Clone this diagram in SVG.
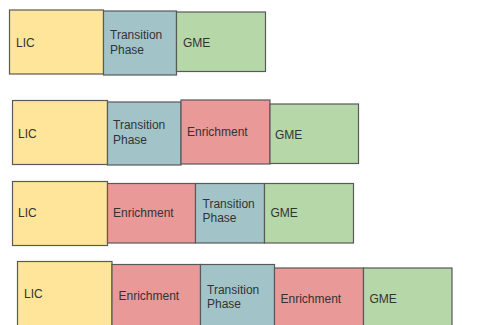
<svg xmlns="http://www.w3.org/2000/svg" width="495" height="325" viewBox="0 0 495 325">
<style>
rect{stroke:#595959;stroke-width:1.2}
.y{fill:#FFE599}.b{fill:#A2C4C9}.r{fill:#EA9999}.g{fill:#B6D7A8}
text{font-family:"Liberation Sans",Arial,sans-serif;font-size:12px;fill:#333333}
</style>
<rect width="495" height="325" fill="#ffffff" style="stroke:none"/>
<g id="row1">
<g id="r1-lic"><rect class="y" x="9.5" y="10" width="94" height="64"/><text x="16" y="47">LIC</text></g>
<g id="r1-tp"><rect class="b" x="103.5" y="11" width="73" height="64"/><text x="110" y="39">Transition</text><text x="110" y="54">Phase</text></g>
<g id="r1-gme"><rect class="g" x="176.5" y="12" width="89" height="59.5"/><text x="183" y="47">GME</text></g>
</g>
<g id="row2">
<g id="r2-lic"><rect class="y" x="12.5" y="100.5" width="95" height="64"/><text x="18" y="138">LIC</text></g>
<g id="r2-tp"><rect class="b" x="107.5" y="102" width="73.5" height="63"/><text x="113" y="129">Transition</text><text x="113" y="143.5">Phase</text></g>
<g id="r2-enr"><rect class="r" x="181" y="100" width="89" height="64"/><text x="187" y="136">Enrichment</text></g>
<g id="r2-gme"><rect class="g" x="270" y="104" width="88.5" height="59.5"/><text x="275" y="139">GME</text></g>
</g>
<g id="row3">
<g id="r3-lic"><rect class="y" x="12.5" y="181.5" width="95" height="64"/><text x="18" y="217">LIC</text></g>
<g id="r3-enr"><rect class="r" x="107.5" y="183.5" width="88" height="59.5"/><text x="113" y="217">Enrichment</text></g>
<g id="r3-tp"><rect class="b" x="195.5" y="183.5" width="69" height="59.5"/><text x="202.5" y="208">Transition</text><text x="202.5" y="222">Phase</text></g>
<g id="r3-gme"><rect class="g" x="264.5" y="183.5" width="89" height="59.5"/><text x="270.5" y="217">GME</text></g>
</g>
<g id="row4">
<g id="r4-lic"><rect class="y" x="17.5" y="261.5" width="94.5" height="70"/><text x="24" y="298">LIC</text></g>
<g id="r4-enr1"><rect class="r" x="112" y="264.5" width="88.5" height="70"/><text x="118.5" y="299.5">Enrichment</text></g>
<g id="r4-tp"><rect class="b" x="200.5" y="264.5" width="74" height="70"/><text x="207" y="294">Transition</text><text x="207" y="308">Phase</text></g>
<g id="r4-enr2"><rect class="r" x="274.5" y="268" width="89" height="70"/><text x="280.5" y="303">Enrichment</text></g>
<g id="r4-gme"><rect class="g" x="363.5" y="268" width="88.5" height="70"/><text x="369.5" y="303">GME</text></g>
</g>
<g id="connectors"/>
</svg>
